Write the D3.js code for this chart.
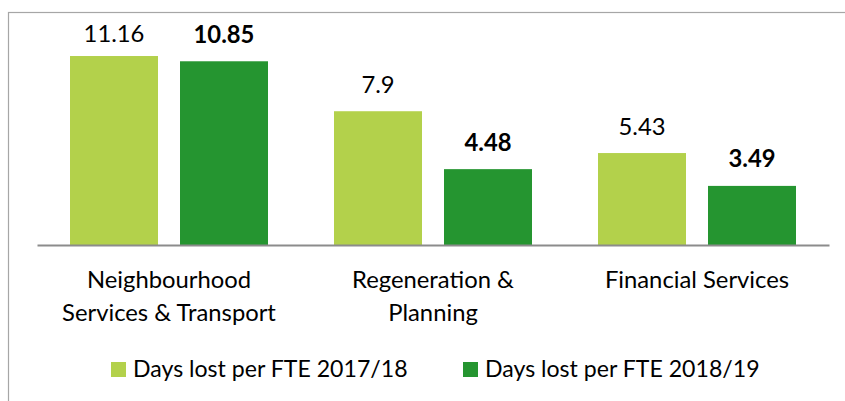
<!DOCTYPE html>
<html>
<head>
<meta charset="utf-8">
<script src="https://cdn.jsdelivr.net/npm/d3@7"></script>
<style>
  html, body { margin: 0; padding: 0; background: #fff; }
  svg { display: block; font-family: Lato, "Open Sans", sans-serif; }
</style>
</head>
<body>
<svg id="chart" width="845" height="401"></svg>
<script>
// Days lost per FTE by service area
const categories = [
  ["Neighbourhood", "Services & Transport"],
  ["Regeneration &", "Planning"],
  ["Financial Services"]
];
const seriesNames = ["Days lost per FTE 2017/18", "Days lost per FTE 2018/19"];
const values2017 = [11.16, 7.9, 5.43];
const values2018 = [10.85, 4.48, 3.49];
const colors = ["#B3D14B", "#259530"];

const svg = d3.select("#chart");
const W = 845, H = 401;
const fontSize = 23.8;
const legendFontSize = 23.1;

// outer frame (runs off the right and bottom edges)
svg.append("rect")
  .attr("x", 8.5).attr("y", 12.5)
  .attr("width", W).attr("height", H)
  .attr("fill", "none").attr("stroke", "#a6a6a6").attr("stroke-width", 1.2);

const plotLeft = 37, plotRight = 829, baseY = 245;

const x0 = d3.scaleBand()
  .domain(d3.range(categories.length))
  .range([plotLeft, plotRight])
  .paddingInner(0.25).paddingOuter(0.125);

const x1 = d3.scaleBand()
  .domain([0, 1])
  .range([0, x0.bandwidth()])
  .paddingInner(0.2);

const y = d3.scaleLinear().domain([0, 12]).range([baseY, 41.8]);

const series = [values2017, values2018];

series.forEach((vals, s) => {
  const g = svg.append("g");
  g.selectAll("rect").data(vals).join("rect")
    .attr("x", (d, i) => x0(i) + x1(s))
    .attr("y", d => y(d))
    .attr("width", x1.bandwidth())
    .attr("height", d => baseY - y(d))
    .attr("fill", colors[s]);

  g.selectAll("text").data(vals).join("text")
    .attr("x", (d, i) => x0(i) + x1(s) + x1.bandwidth() / 2)
    .attr("y", d => Math.max(y(d) - 18.5, 42))
    .attr("text-anchor", "middle")
    .attr("font-size", fontSize)
    .attr("font-weight", s === 1 ? "bold" : "normal")
    .attr("fill", "#000")
    .text(d => d);
});

// baseline axis
const axis = d3.axisBottom(x0).tickSize(0).tickFormat("");
const axisG = svg.append("g").attr("transform", `translate(0,${baseY})`).call(axis);
axisG.select(".domain").attr("stroke", "#8c8c8c").attr("stroke-width", 2);

// category labels
categories.forEach((lines, i) => {
  const t = svg.append("text")
    .attr("text-anchor", "middle")
    .attr("font-size", fontSize)
    .attr("fill", "#000");
  lines.forEach((ln, j) => {
    t.append("tspan")
      .attr("x", x0(i) + x0.bandwidth() / 2)
      .attr("y", 288 + j * 33)
      .text(ln);
  });
});

// legend
const legendX = [111, 463];
seriesNames.forEach((name, s) => {
  const g = svg.append("g").attr("transform", `translate(${legendX[s]},362)`);
  g.append("rect").attr("width", 15).attr("height", 15).attr("fill", colors[s]);
  g.append("text").attr("x", 22).attr("y", 15)
    .attr("font-size", legendFontSize).attr("fill", "#000").text(name);
});
</script>
</body>
</html>
